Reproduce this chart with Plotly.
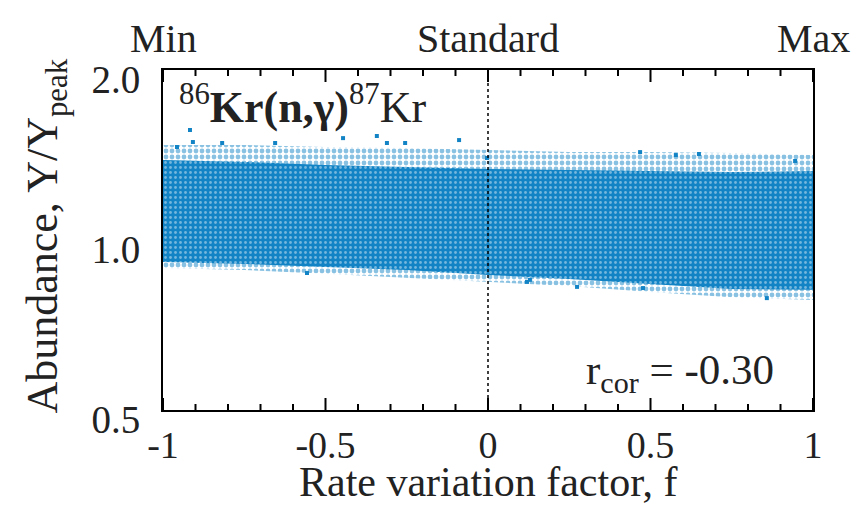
import plotly.graph_objects as go

# ---- data ----
f_env = [-1.0, -0.75, -0.5, -0.25, 0.0, 0.25, 0.5, 0.75, 1.0]
dense_upper = [1.386, 1.375, 1.358, 1.347, 1.336, 1.330, 1.325, 1.319, 1.325]
dense_lower = [0.914, 0.907, 0.896, 0.885, 0.867, 0.853, 0.836, 0.819, 0.816]
fringe_upper = [1.473, 1.473, 1.461, 1.455, 1.443, 1.431, 1.431, 1.426, 1.414]
fringe_lower = [0.892, 0.885, 0.871, 0.856, 0.843, 0.829, 0.809, 0.792, 0.783]

outlier_f = [-0.957, -0.917, -0.908, -0.818, -0.655, -0.446, -0.342, -0.311, -0.255,
             -0.089, -0.003, 0.468, 0.578, 0.649, 0.945,
             -0.557, 0.120, 0.129, 0.274, 0.477, 0.858]
outlier_y = [1.461, 1.566, 1.491, 1.485, 1.485, 1.515, 1.528, 1.485, 1.485,
             1.503, 1.397, 1.431, 1.414, 1.420, 1.380,
             0.874, 0.843, 0.850, 0.826, 0.822, 0.789]

x_major_ticks = [-1, -0.5, 0, 0.5, 1]
x_minor_ticks = [-0.9, -0.8, -0.7, -0.6, -0.4, -0.3, -0.2, -0.1,
                 0.1, 0.2, 0.3, 0.4, 0.6, 0.7, 0.8, 0.9]
x_label_alias = {"−1": "-1", "−0.5": "-0.5"}
y_tickvals = [0.5, 1.0, 2.0]
y_ticktext = ["0.5", "1.0", "2.0"]
top_labels = ["Min", "Standard", "Max"]
top_label_f = [-1, 0, 1]

BLUE = "#1283c4"
FONT = "Liberation Serif"
TXT = "#222"
PLOT_H = 340.0          # plot-area height in px (507 - 70 - 97)

fig = go.Figure()

# sparse fringe of the cloud
fig.add_trace(go.Scatter(x=f_env, y=fringe_lower, mode="lines", line=dict(width=0),
                         hoverinfo="skip", showlegend=False))
fig.add_trace(go.Scatter(x=f_env, y=fringe_upper, mode="lines", line=dict(width=0),
                         fill="tonexty", fillcolor="rgba(0,0,0,0)",
                         fillpattern=dict(shape=".", fgcolor=BLUE, bgcolor="rgba(255,255,255,0)",
                                          size=6, solidity=0.5),
                         hoverinfo="skip", showlegend=False))
# dense core of the cloud
fig.add_trace(go.Scatter(x=f_env, y=dense_lower, mode="lines", line=dict(width=0),
                         hoverinfo="skip", showlegend=False))
fig.add_trace(go.Scatter(x=f_env, y=dense_upper, mode="lines", line=dict(width=0),
                         fill="tonexty", fillcolor=BLUE,
                         fillpattern=dict(shape=".", fgcolor="#d6eaf6", bgcolor=BLUE,
                                          size=5, solidity=0.25),
                         hoverinfo="skip", showlegend=False))
# isolated points
fig.add_trace(go.Scatter(x=outlier_f, y=outlier_y, mode="markers",
                         marker=dict(symbol="square", size=4, color=BLUE),
                         hoverinfo="skip", showlegend=False))

# inward tick marks on the bottom and top frame lines (paper units)
for vals, ln in ((x_major_ticks, 12), (x_minor_ticks, 6)):
    frac = ln / PLOT_H
    for v in vals:
        fig.add_shape(type="line", xref="x", yref="paper", x0=v, x1=v, y0=0, y1=frac,
                      line=dict(color="black", width=2))
        fig.add_shape(type="line", xref="x", yref="paper", x0=v, x1=v, y0=1, y1=1 - frac,
                      line=dict(color="black", width=2))

fig.add_shape(type="line", xref="x", yref="paper", x0=0, x1=0, y0=0, y1=1,
              line=dict(color="black", width=1.5, dash="dot"))

annotations = []
for lab, fx in zip(top_labels, top_label_f):
    annotations.append(dict(text=lab, x=fx, xref="x", y=1.094, yref="paper",
                            showarrow=False, xanchor="center", yanchor="middle",
                            font=dict(family=FONT, size=40, color=TXT)))
annotations += [
    dict(text="<sup>86</sup><b>Kr(n,γ)</b><sup>87</sup>Kr", x=0.022, xref="paper",
         y=0.9, yref="paper", xanchor="left", yanchor="middle", showarrow=False,
         font=dict(family=FONT, size=44, color=TXT)),
    dict(text="r<sub>cor</sub> = -0.30", x=0.943, xref="paper", y=0.11, yref="paper",
         xanchor="right", yanchor="middle", showarrow=False,
         font=dict(family=FONT, size=43, color=TXT)),
    dict(text="Rate variation factor, f", x=0.5, xref="paper", y=-0.212, yref="paper",
         xanchor="center", yanchor="middle", showarrow=False,
         font=dict(family=FONT, size=42, color=TXT)),
    dict(text="Abundance, Y/Y<sub>peak</sub>", x=-0.18, xref="paper", y=0.51, yref="paper",
         xanchor="center", yanchor="middle", showarrow=False, textangle=-90,
         font=dict(family=FONT, size=44, color=TXT)),
]

fig.update_layout(
    width=856, height=507,
    margin=dict(l=163, r=43, t=70, b=97),
    paper_bgcolor="white", plot_bgcolor="white",
    annotations=annotations,
    xaxis=dict(range=[-1, 1], tickmode="array", tickvals=x_major_ticks,
               labelalias=x_label_alias, ticks="",
               showline=True, linewidth=2, linecolor="black", mirror=True,
               showgrid=False, zeroline=False,
               tickfont=dict(family=FONT, size=38, color=TXT)),
    yaxis=dict(type="log", range=[-0.30103, 0.30103], tickmode="array",
               tickvals=y_tickvals, ticktext=y_ticktext, ticks="",
               ticklabelstandoff=13, ticklabelshift=9,
               showline=True, linewidth=2, linecolor="black", mirror=True,
               showgrid=False, zeroline=False,
               tickfont=dict(family=FONT, size=39, color=TXT)),
)

fig.write_html("out.html", config={"displayModeBar": False},
               post_script="document.body.style.margin='0';document.body.style.overflow='hidden';")
